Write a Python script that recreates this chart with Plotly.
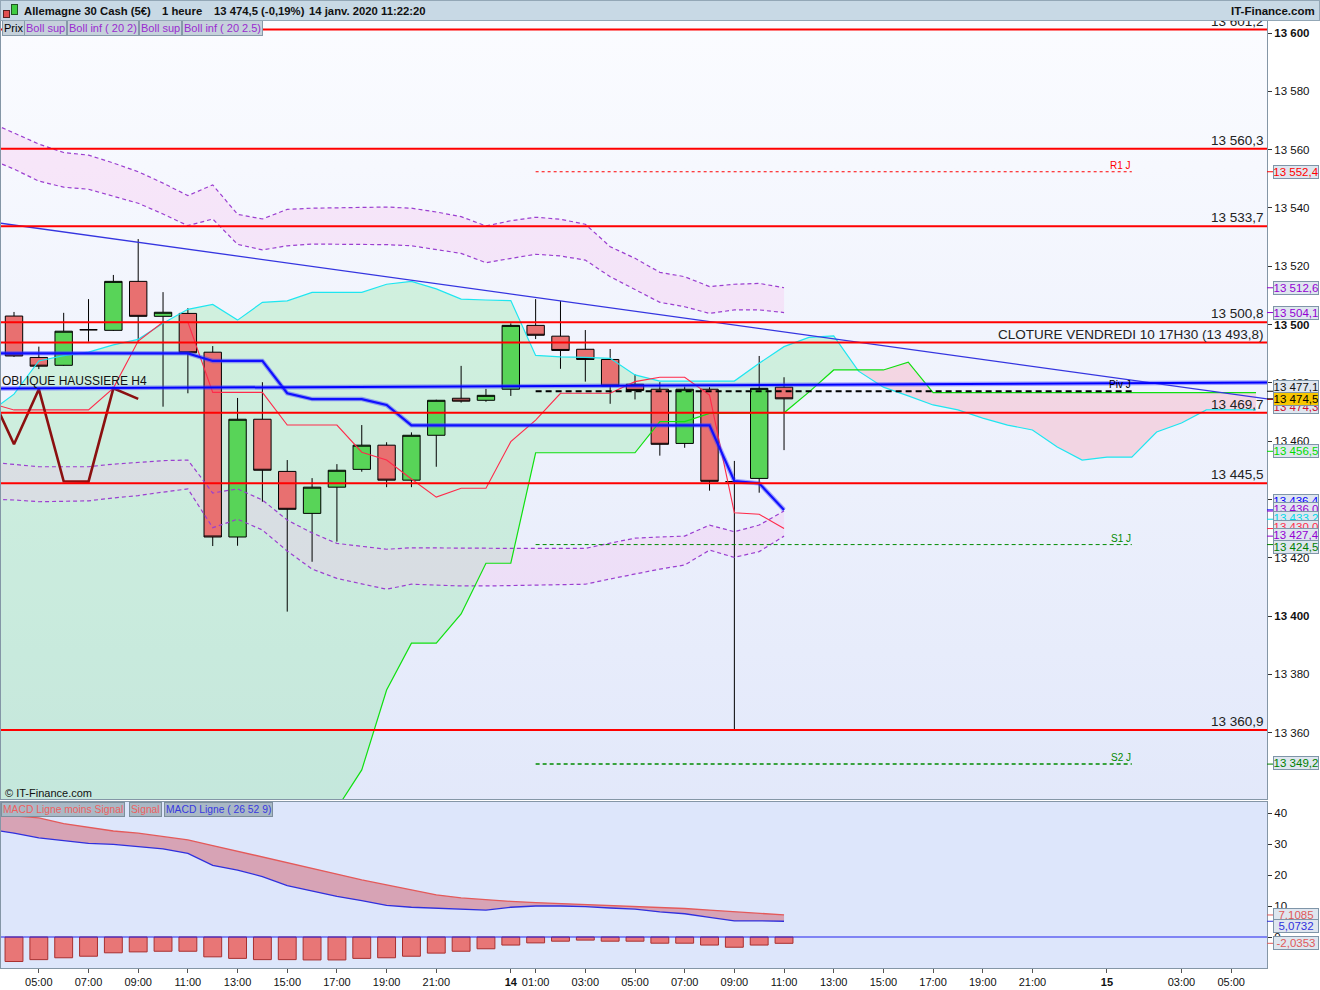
import plotly.graph_objects as go

# ---------------- DATA ----------------
# hours counted from 13 Jan 2020 00:00 (hourly candles 04:00 13/01 -> 11:00 14/01)
candle_hours = list(range(4, 36))
opens  = [13502.9, 13488.7, 13486.0, 13498.2, 13498.0, 13514.8, 13502.8, 13503.8,
          13490.5, 13427.1, 13467.5, 13449.6, 13435.2, 13444.2, 13450.3, 13458.6,
          13446.6, 13462.0, 13474.7, 13474.0, 13477.8, 13499.7, 13496.0, 13491.5,
          13488.0, 13479.5, 13477.8, 13459.2, 13477.8, 13446.1, 13447.2, 13478.5]
highs  = [13504.3, 13492.4, 13504.0, 13508.7, 13517.0, 13529.3, 13511.1, 13505.6,
          13492.6, 13474.8, 13480.2, 13453.5, 13447.3, 13452.1, 13465.5, 13459.6,
          13463.0, 13474.2, 13485.8, 13477.9, 13500.4, 13508.7, 13508.1, 13498.1,
          13491.6, 13482.9, 13480.2, 13478.7, 13478.5, 13453.2, 13489.2, 13481.9]
lows   = [13488.9, 13484.7, 13485.8, 13494.1, 13497.8, 13494.1, 13471.8, 13476.4,
          13424.0, 13424.1, 13439.2, 13401.5, 13418.6, 13425.5, 13449.5, 13444.2,
          13444.2, 13451.2, 13473.2, 13473.5, 13475.5, 13495.0, 13484.8, 13480.4,
          13472.8, 13474.3, 13455.0, 13457.7, 13443.0, 13360.9, 13442.3, 13456.9]
closes = [13489.2, 13485.7, 13497.7, 13498.2, 13514.8, 13502.8, 13504.2, 13490.3,
          13427.1, 13467.5, 13450.0, 13436.6, 13444.2, 13450.0, 13458.6, 13446.6,
          13462.0, 13474.0, 13473.7, 13475.7, 13499.7, 13496.3, 13491.1, 13488.0,
          13478.9, 13477.4, 13458.9, 13477.8, 13446.2, 13446.1, 13478.1, 13474.5]

ind_hours = list(range(3, 36))
boll_sup_25 = [13569.5, 13565.7, 13561.9, 13559.0, 13558.1, 13555.4, 13552.4, 13548.5, 13544.2,
               13547.9, 13537.8, 13536.2, 13539.5, 13539.9, 13540.0, 13540.1, 13540.3, 13539.9,
               13538.6, 13537.0, 13533.8, 13535.6, 13536.8, 13536.1, 13534.4, 13526.7, 13522.7,
               13517.9, 13516.4, 13513.0, 13513.8, 13514.1, 13512.6]
boll_sup_2 = [13556.9, 13553.3, 13549.2, 13547.1, 13546.4, 13544.1, 13541.6, 13537.9, 13533.9,
              13536.2, 13527.5, 13525.6, 13527.0, 13527.6, 13527.6, 13527.6, 13527.4, 13527.0,
              13525.7, 13524.4, 13521.2, 13522.7, 13524.1, 13523.5, 13522.1, 13516.4, 13512.1,
              13507.6, 13506.1, 13503.8, 13505.0, 13505.0, 13504.1]
boll_inf_2 = [13452.8, 13452.1, 13451.2, 13451.2, 13451.2, 13452.1, 13452.7, 13453.3, 13453.5,
              13442.2, 13443.6, 13439.8, 13432.9, 13428.5, 13424.9, 13424.0, 13422.9, 13423.4,
              13423.3, 13423.2, 13423.2, 13423.2, 13423.2, 13423.2, 13423.2, 13425.0, 13426.7,
              13427.1, 13427.4, 13431.2, 13428.9, 13431.2, 13436.0]
boll_inf_25 = [13440.1, 13439.8, 13439.2, 13439.3, 13439.5, 13440.5, 13441.3, 13442.5, 13443.6,
               13430.3, 13433.2, 13429.5, 13422.3, 13416.1, 13412.9, 13411.0, 13409.2, 13410.9,
               13410.5, 13410.3, 13410.3, 13410.5, 13410.6, 13410.8, 13410.9, 13412.7, 13414.4,
               13416.1, 13417.5, 13422.6, 13420.1, 13422.1, 13427.4]
tenkan = [13473.1, 13470.7, 13470.7, 13470.7, 13470.7, 13478.2, 13494.3, 13500.8, 13500.8,
          13476.7, 13476.7, 13476.7, 13465.5, 13465.5, 13465.5, 13456.2, 13453.5, 13447.0,
          13440.8, 13443.8, 13443.8, 13459.8, 13467.2, 13476.4, 13476.4, 13476.4, 13480.4,
          13481.9, 13481.9, 13475.8, 13435.4, 13434.9, 13430.0]
kijun = [13490.1] * 9 + [13487.5] * 3 + [13476.4] + [13474.4] * 3 + [13472.4] + \
        [13465.4] * 13 + [13446.3, 13445.5, 13436.4]

cloud_hours = list(range(3, 55))
span_cyan = [13469.8, 13476.1, 13487.5, 13489.3, 13490.5, 13493.0, 13494.9, 13500.4, 13505.2,
             13506.9, 13501.5, 13507.6, 13508.1, 13511.0, 13511.0, 13511.0, 13513.8, 13514.8,
             13512.2, 13508.7, 13508.4, 13508.2, 13489.4, 13488.9, 13488.7, 13488.4, 13482.7,
             13480.6, 13480.6, 13480.6, 13480.6, 13486.7, 13492.4, 13495.6, 13496.1, 13484.0,
             13478.5, 13475.5, 13472.4, 13470.7, 13467.9, 13465.5, 13463.8, 13458.0, 13453.5,
             13454.5, 13454.5, 13463.1, 13466.2, 13470.7, 13470.7, 13470.7]
span_green = [13300.0] * 13 + [13316.3, 13334.0, 13347.2, 13374.6, 13390.7, 13390.7, 13400.7,
              13418.1, 13418.1] + [13456.0] * 5 + [13466.7, 13466.7, 13469.5] + \
             [13469.7] * 3 + [13476.8, 13484.4, 13484.4, 13484.4, 13487.1] + [13476.6] * 14

macd_hours = list(range(3, 36))
macd_signal = [39.7, 39.1, 38.4, 36.6, 35.3, 34.2, 33.5, 32.5, 31.3, 29.5, 27.7, 25.7, 24.0,
               22.1, 20.3, 18.4, 16.8, 15.0, 13.6, 12.6, 12.0, 11.5, 11.1, 10.8, 10.6, 10.3,
               10.0, 9.5, 9.2, 8.7, 8.1, 7.6, 7.1085]
macd_line = [34.7, 33.5, 32.0, 31.2, 30.2, 29.9, 29.2, 28.4, 27.0, 23.1, 21.6, 19.5, 16.6,
             14.8, 13.1, 11.7, 10.2, 9.6, 9.35, 9.0, 8.7, 9.6, 10.0, 10.0, 9.8, 9.35, 9.0,
             8.1, 7.5, 6.35, 5.2, 5.2, 5.0732]
macd_hist = [-7.9, -7.3, -6.7, -6.2, -5.1, -4.8, -4.6, -4.6, -6.4, -6.9, -7.3, -7.3, -7.4,
             -7.4, -6.9, -6.7, -6.2, -5.2, -4.6, -3.8, -2.6, -1.9, -1.35, -1.0, -1.35, -1.35,
             -2.0, -2.0, -2.6, -3.3, -2.6, -2.0353]

levels = [13601.2, 13560.3, 13533.7, 13500.8, 13493.8, 13469.7, 13445.5, 13360.9]
cloture_level = 13493.8

pivot_names = ["R1 J", "Piv J", "S1 J", "S2 J"]
pivot_values = [13552.4, 13477.1, 13424.5, 13349.2]
pivot_hours = [25, 49]

trend_down_hours = [3, 55]
trend_down_prices = [13535.3, 13473.8]
trend_up_hours = [3, 55]
trend_up_prices = [13478.0, 13480.1]

extra_values = {"green": 13456.5, "cyan": 13433.2, "crimson": 13474.3}

x_ticks = [5, 7, 9, 11, 13, 15, 17, 19, 21, 24, 25, 27, 29, 31, 33, 35, 37, 39, 41, 43, 45, 48, 51, 53]
x_ticktext = ["05:00", "07:00", "09:00", "11:00", "13:00", "15:00", "17:00", "19:00", "21:00",
              "<b>14</b>", "01:00", "03:00", "05:00", "07:00", "09:00", "11:00", "13:00", "15:00",
              "17:00", "19:00", "21:00", "<b>15</b>", "03:00", "05:00"]
price_ticks = list(range(13360, 13601, 20))
macd_ticks = [0, 10, 20, 30, 40]

# ---------------- HELPERS ----------------
W, H = 1320, 990
FONT = "Liberation Sans, Arial, sans-serif"
NARROW = "Liberation Sans Narrow, Liberation Sans, Arial, sans-serif"
XR = [3.4767, 54.443]
YR = [13337.22, 13604.46]
Y2R = [-10.0, 43.55]


def fr(v, dec=1):
    s = f"{v:,.{dec}f}"
    return s.replace(",", " ").replace(".", ",")


def with_crossings(xs, a, b):
    X, A, B = [xs[0]], [a[0]], [b[0]]
    for i in range(1, len(xs)):
        d0 = a[i - 1] - b[i - 1]
        d1 = a[i] - b[i]
        if d0 * d1 < 0:
            t = d0 / (d0 - d1)
            xc = xs[i - 1] + t * (xs[i] - xs[i - 1])
            yc = a[i - 1] + t * (a[i] - a[i - 1])
            X.append(xc); A.append(yc); B.append(yc)
        X.append(xs[i]); A.append(a[i]); B.append(b[i])
    return X, A, B


fig = go.Figure()

# ---- base layer (x, y): background + fills ----
fig.add_trace(go.Scatter(x=[XR[0] - 1, XR[1] + 1, XR[1] + 1, XR[0] - 1, XR[0] - 1],
                         y=[YR[0] - 5, YR[0] - 5, YR[1] + 5, YR[1] + 5, YR[0] - 5],
                         mode="lines", line=dict(width=0), fill="toself",
                         fillgradient=dict(type="vertical",
                                           colorscale=[[0, "#e2e8fa"], [1, "#fbfcff"]]),
                         hoverinfo="skip", xaxis="x", yaxis="y"))

cx, ca, cb = with_crossings(cloud_hours, span_cyan, span_green)
cmin = [min(p, q) for p, q in zip(ca, cb)]
fig.add_trace(go.Scatter(x=cx, y=cmin, mode="lines", line=dict(width=0), hoverinfo="skip",
                         xaxis="x", yaxis="y"))
fig.add_trace(go.Scatter(x=cx, y=ca, mode="lines", line=dict(width=0), fill="tonexty",
                         fillcolor="rgba(120,230,140,0.27)", hoverinfo="skip",
                         xaxis="x", yaxis="y"))
fig.add_trace(go.Scatter(x=cx, y=cmin, mode="lines", line=dict(width=0), hoverinfo="skip",
                         xaxis="x", yaxis="y"))
fig.add_trace(go.Scatter(x=cx, y=cb, mode="lines", line=dict(width=0), fill="tonexty",
                         fillcolor="rgba(255,140,160,0.28)", hoverinfo="skip",
                         xaxis="x", yaxis="y"))

band_fill = "rgba(250,190,238,0.30)"
fig.add_trace(go.Scatter(x=ind_hours, y=boll_sup_2, mode="lines", line=dict(width=0),
                         hoverinfo="skip", xaxis="x", yaxis="y"))
fig.add_trace(go.Scatter(x=ind_hours, y=boll_sup_25, mode="lines", line=dict(width=0),
                         fill="tonexty", fillcolor=band_fill, hoverinfo="skip",
                         xaxis="x", yaxis="y"))
fig.add_trace(go.Scatter(x=ind_hours, y=boll_inf_25, mode="lines", line=dict(width=0),
                         hoverinfo="skip", xaxis="x", yaxis="y"))
fig.add_trace(go.Scatter(x=ind_hours, y=boll_inf_2, mode="lines", line=dict(width=0),
                         fill="tonexty", fillcolor=band_fill, hoverinfo="skip",
                         xaxis="x", yaxis="y"))

# ---- overlay layer (x, y3): candles + lines ----
fig.add_trace(go.Candlestick(x=candle_hours, open=opens, high=highs, low=lows, close=closes,
                             increasing=dict(fillcolor="#58d458", line=dict(color="#000000", width=1)),
                             decreasing=dict(fillcolor="#e87070", line=dict(color="#000000", width=1)),
                             whiskerwidth=0, xaxis="x", yaxis="y3", hoverinfo="skip"))

dash_purple = dict(color="#9b3fd0", width=1.2, dash="4px,3px")
for arr in (boll_sup_25, boll_sup_2, boll_inf_2, boll_inf_25):
    fig.add_trace(go.Scatter(x=ind_hours, y=arr, mode="lines", line=dash_purple,
                             hoverinfo="skip", xaxis="x", yaxis="y3"))

fig.add_trace(go.Scatter(x=cloud_hours, y=span_cyan, mode="lines",
                         line=dict(color="#1ee6f0", width=1.2), xaxis="x", yaxis="y3"))
fig.add_trace(go.Scatter(x=cloud_hours, y=span_green, mode="lines",
                         line=dict(color="#10e010", width=1.2), xaxis="x", yaxis="y3"))
fig.add_trace(go.Scatter(x=ind_hours, y=tenkan, mode="lines",
                         line=dict(color="#ff2a4a", width=1.1), xaxis="x", yaxis="y3"))
fig.add_trace(go.Scatter(x=ind_hours, y=kijun, mode="lines",
                         line=dict(color="rgba(60,60,255,0.45)", width=4.5), xaxis="x", yaxis="y3"))
fig.add_trace(go.Scatter(x=ind_hours, y=kijun, mode="lines",
                         line=dict(color="#1010ff", width=2.2), xaxis="x", yaxis="y3"))

# lagging span: closes shifted back 26 periods
chikou_src = closes[-7:]
chikou_hours = [h - 26 for h in candle_hours[-7:]]
fig.add_trace(go.Scatter(x=chikou_hours, y=chikou_src, mode="lines",
                         line=dict(color="#8b1010", width=2.6), xaxis="x", yaxis="y3"))

fig.add_trace(go.Scatter(x=trend_down_hours, y=trend_down_prices, mode="lines",
                         line=dict(color="#3535e0", width=1.3), xaxis="x", yaxis="y3"))
fig.add_trace(go.Scatter(x=trend_up_hours, y=trend_up_prices, mode="lines",
                         line=dict(color="rgba(60,60,255,0.45)", width=4.5), xaxis="x", yaxis="y3"))
fig.add_trace(go.Scatter(x=trend_up_hours, y=trend_up_prices, mode="lines",
                         line=dict(color="#0000ff", width=2), xaxis="x", yaxis="y3"))

# ---- MACD panel (x2, y2) ----
fig.add_trace(go.Bar(x=candle_hours, y=macd_hist, width=0.72,
                     marker=dict(color="#e87676", line=dict(color="#a83030", width=1)),
                     xaxis="x2", yaxis="y2", hoverinfo="skip"))
fig.add_trace(go.Scatter(x=macd_hours, y=macd_line, mode="lines",
                         line=dict(color="#3030dd", width=1.3), xaxis="x2", yaxis="y2"))
fig.add_trace(go.Scatter(x=macd_hours, y=macd_signal, mode="lines",
                         line=dict(color="#e45a5a", width=1.3), fill="tonexty",
                         fillcolor="rgba(214,150,168,0.85)", xaxis="x2", yaxis="y2"))

# ---------------- SHAPES ----------------
shapes = []
for lv in levels:
    shapes.append(dict(type="line", xref="paper", yref="y", x0=1 / W, x1=1267 / W,
                       y0=lv, y1=lv, line=dict(color="#ff0000", width=2), layer="above"))
piv_styles = [dict(color="#ff0000", width=1, dash="3px,3px"),
              dict(color="#000000", width=2, dash="6px,4px"),
              dict(color="#008a00", width=1, dash="4px,3px"),
              dict(color="#008a00", width=1.5, dash="4px,3px")]
for v, st in zip(pivot_values, piv_styles):
    shapes.append(dict(type="line", xref="x", yref="y", x0=pivot_hours[0], x1=pivot_hours[1],
                       y0=v, y1=v, line=st, layer="above"))
shapes.append(dict(type="line", xref="x2", yref="y2", x0=XR[0], x1=XR[1], y0=0, y1=0,
                   line=dict(color="#2222ee", width=1.2), layer="above"))

# ---------------- ANNOTATIONS ----------------
ann = []
# level labels
for lv in levels:
    txt = fr(lv) if lv != cloture_level else f"CLOTURE VENDREDI 10 17H30 ({fr(lv)})"
    ann.append(dict(text=txt, xref="paper", yref="y", x=1265 / W, y=lv, xanchor="right",
                    yanchor="bottom", showarrow=False, borderpad=0,
                    font=dict(family=FONT, size=13.5, color="#222222")))
ann.append(dict(text="OBLIQUE HAUSSIERE H4", xref="paper", yref="y", x=1 / W,
                y=trend_up_prices[0], xanchor="left", yanchor="bottom", showarrow=False,
                borderpad=0, font=dict(family=FONT, size=12, color="#111111")))
piv_colors = ["#ff0000", "#000000", "#008a00", "#008a00"]
for n, v, c in zip(pivot_names, pivot_values, piv_colors):
    ann.append(dict(text=n, xref="x", yref="y", x=pivot_hours[1], y=v, xanchor="right",
                    yanchor="bottom", showarrow=False, borderpad=0,
                    font=dict(family=FONT, size=10, color=c)))
ann.append(dict(text="© IT-Finance.com", xref="paper", yref="paper", x=3 / W, y=1 - 793 / H,
                xanchor="left", yanchor="middle", showarrow=False,
                font=dict(family=FONT, size=11, color="#111111")))

# right axis value boxes (value, colour, yshift px, bg)
boxes = [(pivot_values[0], "#ff0000", 0, "#dfe6ef"),
         (boll_sup_25[-1], "#9400d3", 0, "#dfe6ef"),
         (boll_sup_2[-1], "#9400d3", 0, "#dfe6ef"),
         (pivot_values[1], "#111111", 4.5, "#dfe6ef"),
         (extra_values["crimson"], "#cc1030", -8, "#dfe6ef"),
         (closes[-1], "#000000", 0, "#f7c600"),
         (extra_values["green"], "#00dd00", 0, "#dfe6ef"),
         (kijun[-1], "#0000ff", 9, "#dfe6ef"),
         (boll_inf_2[-1], "#9400d3", 2, "#dfe6ef"),
         (extra_values["cyan"], "#00d8e8", 1, "#dfe6ef"),
         (tenkan[-1], "#ff2a4a", 1.5, "#dfe6ef"),
         (boll_inf_25[-1], "#9400d3", 1, "#dfe6ef"),
         (pivot_values[2], "#008000", -2.5, "#dfe6ef"),
         (pivot_values[3], "#008000", 1, "#dfe6ef")]
order = [0, 1, 2, 3, 4, 6, 7, 8, 9, 10, 11, 12, 13, 5]
for i in order:
    v, c, ys, bg = boxes[i]
    shapes.append(dict(type="line", xref="paper", yref="y", x0=1267 / W, x1=1273 / W,
                       y0=v, y1=v, line=dict(color=c, width=1)))
    ann.append(dict(text=fr(v), xref="paper", yref="y", x=1273 / W, y=v, xanchor="left",
                    yanchor="middle", yshift=ys, showarrow=False, width=44, height=12,
                    bgcolor=bg, bordercolor="#7f95a8", borderwidth=1, borderpad=0,
                    font=dict(family=FONT, size=11.5, color=c)))

macd_boxes = [(macd_signal[-1], "#e05a5a", 0), (macd_line[-1], "#3030dd", -5),
              (macd_hist[-1], "#e05a5a", 0)]
for v, c, ys in macd_boxes:
    shapes.append(dict(type="line", xref="paper", yref="y2", x0=1267 / W, x1=1273 / W,
                       y0=v, y1=v, line=dict(color=c, width=1)))
    ann.append(dict(text=fr(v, 4), xref="paper", yref="y2", x=1273 / W, y=v, xanchor="left",
                    yanchor="middle", yshift=ys, showarrow=False, width=44, height=12,
                    bgcolor="#dfe6ef", bordercolor="#7f95a8", borderwidth=1, borderpad=0,
                    font=dict(family=FONT, size=11.5, color=c)))

# legend boxes
leg_price = [("Prix", "#000000", 2), ("Boll sup", "#9a2bd0", 24), ("Boll inf ( 20 2)", "#9a2bd0", 67),
             ("Boll sup", "#9a2bd0", 139), ("Boll inf ( 20 2.5)", "#9a2bd0", 182)]
for t, c, x in leg_price:
    ann.append(dict(text=t, xref="paper", yref="paper", x=x / W, y=1 - 27.5 / H, xanchor="left",
                    yanchor="middle", showarrow=False, bgcolor="#c5d1db", bordercolor="#8799a8",
                    borderwidth=1, borderpad=1, font=dict(family=FONT, size=11, color=c)))
leg_macd = [("MACD Ligne moins Signal", "#ee6060", 1), ("Signal", "#ee6060", 129),
            ("MACD Ligne ( 26 52 9)", "#3838e0", 164)]
for t, c, x in leg_macd:
    ann.append(dict(text=t, xref="paper", yref="paper", x=x / W, y=1 - 809.5 / H, xanchor="left",
                    yanchor="middle", showarrow=False, bgcolor="#a9b8c5", bordercolor="#7d8e9c",
                    borderwidth=1, borderpad=1, font=dict(family=FONT, size=10.3, color=c)))

# header bar (drawn after level labels so it covers them)
ann.append(dict(text="", xref="paper", yref="paper", x=0, y=1, xanchor="left", yanchor="top",
                width=W - 2, height=19, bgcolor="#c8d9e5", bordercolor="#93a7b6", borderwidth=1,
                borderpad=0, showarrow=False))
for t, x in [("Allemagne 30 Cash (5€)", 22), ("1 heure", 160), ("13 474,5 (-0,19%)", 212),
             ("14 janv. 2020 11:22:20", 307)]:
    ann.append(dict(text=f"<b>{t}</b>", xref="paper", yref="paper", x=x / W, y=1 - 10.5 / H,
                    xanchor="left", yanchor="middle", showarrow=False,
                    font=dict(family=FONT, size=11.3, color="#111111")))
ann.append(dict(text="<b>IT-Finance.com</b>", xref="paper", yref="paper", x=1317 / W,
                y=1 - 10.5 / H, xanchor="right", yanchor="middle", showarrow=False,
                font=dict(family=FONT, size=11.5, color="#111111")))
ann.append(dict(text="", xref="paper", yref="paper", x=3 / W, y=1 - 13.5 / H, xanchor="left",
                yanchor="middle", width=5, height=6, bgcolor="#e05050", bordercolor="#552222",
                borderwidth=1, borderpad=0, showarrow=False))
ann.append(dict(text="", xref="paper", yref="paper", x=11 / W, y=1 - 10 / H, xanchor="left",
                yanchor="middle", width=5, height=9, bgcolor="#40cc40", bordercolor="#225522",
                borderwidth=1, borderpad=0, showarrow=False))

# ---------------- LAYOUT ----------------
price_ticktext = [f"<b>{fr(v, 0)}</b>" if v % 100 == 0 else fr(v, 0) for v in price_ticks]
axis_line = "#8496a6"
fig.update_layout(
    width=W, height=H, margin=dict(l=0, r=0, t=0, b=0),
    paper_bgcolor="#ffffff", plot_bgcolor="#dde6fb",
    showlegend=False, hovermode=False, boxgap=0.3, boxgroupgap=0,
    font=dict(family=FONT, size=11, color="#111111"),
    xaxis=dict(domain=[1 / W, 1267 / W], range=XR, anchor="y", showticklabels=False,
               showgrid=False, zeroline=False, showline=True, mirror=True, linecolor=axis_line,
               ticks="", rangeslider=dict(visible=False), automargin=False),
    yaxis=dict(domain=[1 - 799 / H, 1 - 20 / H], range=YR, anchor="x", side="right",
               tickvals=price_ticks, ticktext=price_ticktext, ticks="outside", ticklen=4,
               tickcolor="#333333", showgrid=False, zeroline=False, showline=True, mirror=True,
               linecolor=axis_line, tickfont=dict(family=FONT, size=11.5, color="#111111"),
               automargin=False),
    yaxis3=dict(overlaying="y", range=YR, visible=False, anchor="x", automargin=False),
    xaxis2=dict(domain=[1 / W, 1267 / W], range=XR, anchor="y2", matches="x",
                tickvals=x_ticks, ticktext=x_ticktext, ticks="outside", ticklen=4,
                tickcolor="#555555", showgrid=False, zeroline=False, showline=True, mirror=True,
                linecolor=axis_line, tickfont=dict(family=NARROW, size=11, color="#111111"),
                automargin=False),
    yaxis2=dict(domain=[1 - 968 / H, 1 - 802 / H], range=Y2R, anchor="x2", side="right",
                tickvals=macd_ticks, ticktext=[str(v) for v in macd_ticks], ticks="outside",
                ticklen=4, tickcolor="#333333", showgrid=False, zeroline=False, showline=True,
                mirror=True, linecolor=axis_line,
                tickfont=dict(family=FONT, size=11.5, color="#111111"), automargin=False),
    shapes=shapes, annotations=ann,
)

fig.write_html("out.html", config={"displayModeBar": False},
               post_script="document.body.style.margin='0';")
